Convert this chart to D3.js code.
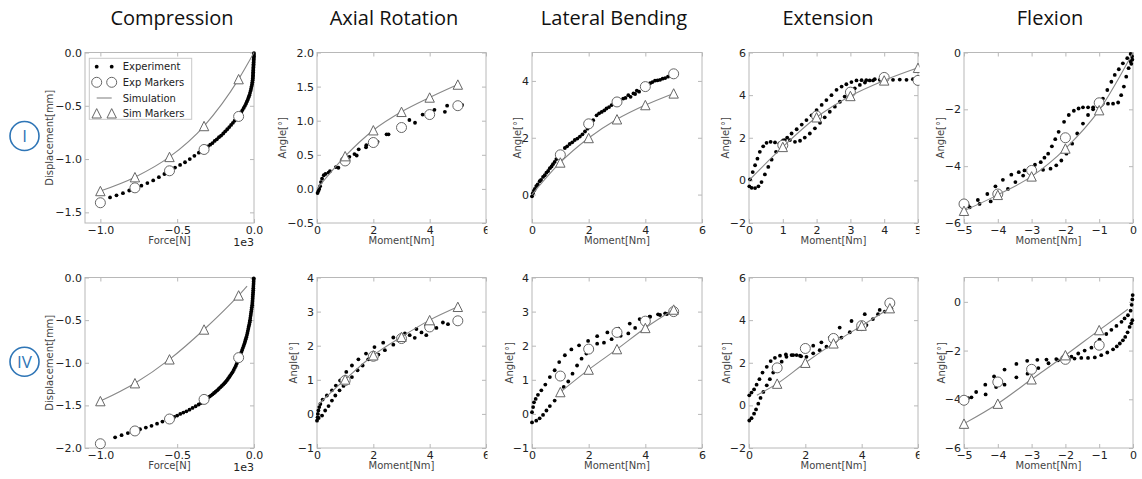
<!DOCTYPE html>
<html>
<head>
<meta charset="utf-8">
<script src="https://cdn.jsdelivr.net/npm/d3@7"></script>
<style>
  body { margin: 0; background: #fff; }
  svg { display: block; }
</style>
</head>
<body>
<svg id="chart" width="1142" height="479"></svg>
<script>
// ---------- data ----------
const titles = ["Compression", "Axial Rotation", "Lateral Bending", "Extension", "Flexion"];
const rowLabels = ["I", "IV"];
const legendLabels = ["Experiment", "Exp Markers", "Simulation", "Sim Markers"];

// load steps where the markers sit
const forceSteps = [-1000, -775, -550, -325, -100];
const momentSteps = [1, 2, 3, 4, 5];
const flexSteps = [-5, -4, -3, -2, -1];

// Specimen I
const compI_exp = [[-937,-1.36],[-895,-1.34],[-853,-1.32],[-812,-1.295],[-772,-1.27],[-733,-1.25],[-694,-1.225],[-656,-1.20],[-619,-1.17],[-583,-1.14],[-548,-1.11],[-514,-1.08],[-481,-1.055],[-449,-1.03],[-418,-1.00],[-388,-0.97],[-359,-0.94],[-331,-0.91],[-315,-0.895],[-300,-0.88],[-285,-0.865],[-270,-0.85],[-256,-0.83],[-242,-0.815],[-228,-0.795],[-214,-0.78],[-200,-0.76],[-187,-0.74],[-174,-0.72],[-161,-0.70],[-149,-0.68],[-137,-0.66],[-126,-0.64],[-115,-0.62],[-104,-0.60],[-94,-0.58],[-84,-0.56],[-75,-0.54],[-67,-0.52],[-59,-0.50],[-52,-0.48],[-46,-0.46],[-40,-0.44],[-35,-0.42],[-30,-0.40],[-26,-0.38],[-22,-0.36],[-19,-0.34],[-16,-0.32],[-13,-0.30],[-11,-0.28],[-9,-0.26],[-8,-0.245],[-7,-0.23],[-6.5,-0.215],[-6,-0.20],[-5.5,-0.185],[-5,-0.17],[-4.5,-0.155],[-4,-0.14],[-3.5,-0.125],[-3,-0.11],[-2.5,-0.095],[-2,-0.08],[-1.5,-0.065],[-1,-0.05],[-0.7,-0.035],[-0.5,-0.02],[-0.2,-0.005]];
const compI_circ = [-1.41, -1.27, -1.11, -0.91, -0.60];
const compI_sim = [[-1000,-1.30],[-775,-1.17],[-550,-0.98],[-325,-0.69],[-100,-0.25],[0,0]];
const compI_tri = [-1.30, -1.17, -0.98, -0.69, -0.25];

const arI_exp = [[0.02,-0.06],[0.05,-0.03],[0.08,0.00],[0.11,0.04],[0.14,0.10],[0.18,0.15],[0.24,0.20],[0.30,0.22],[0.41,0.24],[0.46,0.26],[0.67,0.32],[0.76,0.31],[1.03,0.45],[1.15,0.47],[1.33,0.51],[1.41,0.49],[1.48,0.58],[1.74,0.61],[1.75,0.64],[2.15,0.69],[2.47,0.80],[2.54,0.80],[3.28,1.01],[3.48,0.97],[3.75,1.09],[4.17,1.16],[4.54,1.13],[4.62,1.22],[5.15,1.23]];
const arI_circ = [0.41, 0.68, 0.90, 1.09, 1.22];
const arI_sim = [[0,0],[1,0.48],[2,0.86],[3,1.13],[4,1.34],[5,1.53]];
const arI_tri = [0.48, 0.86, 1.13, 1.34, 1.53];

const lbI_exp = [[0,-0.06],[0.07,0.14],[0.15,0.30],[0.27,0.47],[0.39,0.62],[0.51,0.77],[0.63,0.93],[0.74,1.07],[0.86,1.25],[1.02,1.45],[1.16,1.64],[1.33,1.78],[1.51,1.92],[1.69,2.04],[1.87,2.22],[2.04,2.49],[2.28,2.79],[2.46,2.91],[2.63,3.03],[2.81,3.15],[3.08,3.32],[3.22,3.38],[3.40,3.50],[3.58,3.56],[3.70,3.66],[4.17,3.92],[4.34,4.01],[4.52,4.04],[4.70,4.10],[4.93,4.21],
  [0.03,0.05],[0.10,0.20],[0.20,0.36],[0.32,0.52],[0.45,0.68],[0.57,0.83],[0.69,0.99],[0.80,1.15],[0.94,1.34],[1.24,1.70],[1.42,1.84],[1.60,1.97],[1.78,2.12],[1.96,2.32],[2.16,2.62],[2.37,2.86],[2.55,2.96],[2.72,3.08],[2.90,3.21],[3.30,3.40],[3.48,3.44],[3.64,3.54],[3.78,3.62],[4.08,3.84],[4.25,3.96],[4.43,4.02],[4.61,4.08],[4.80,4.15],[5.02,4.22]];
const lbI_circ = [1.40, 2.49, 3.26, 3.80, 4.25];
const lbI_sim = [[0,0],[1,1.13],[2,1.99],[3,2.65],[4,3.15],[5,3.56]];
const lbI_tri = [1.13, 1.99, 2.65, 3.15, 3.56];

const extI_exp = [[0.03,0.05],[0.11,0.39],[0.18,0.71],[0.25,1.02],[0.32,1.34],[0.42,1.60],[0.52,1.76],[0.64,1.81],[0.77,1.78],[0.90,1.74],[1.01,1.88],[1.13,2.01],[1.26,2.20],[1.41,2.40],[1.56,2.62],[1.70,2.83],[1.85,3.05],[2.00,3.30],[2.15,3.54],[2.29,3.77],[2.44,4.00],[2.59,4.25],[2.74,4.40],[2.88,4.51],[3.03,4.61],[3.18,4.69],[3.33,4.70],[3.47,4.70],[3.67,4.69],[3.87,4.72],
  [0.01,-0.28],[0.08,-0.35],[0.18,-0.36],[0.28,-0.28],[0.37,-0.08],[0.47,0.28],[0.57,0.63],[0.67,0.97],[0.80,1.34],[0.92,1.65],[1.06,1.89],[1.21,1.89],[1.36,1.81],[1.51,1.86],[1.65,2.01],[1.80,2.20],[1.95,2.44],[2.10,2.70],[2.24,2.96],[2.39,3.22],[2.54,3.46],[2.69,3.69],[2.83,3.93],[2.98,4.12],[3.13,4.32],[3.28,4.48],[3.43,4.59],[3.57,4.69],[3.72,4.75],[4.07,4.72],[4.26,4.72],[4.46,4.73],[4.66,4.72],[4.85,4.75]];
const extI_circ = [1.65, 3.02, 4.14, 4.83, 4.69];
const extI_sim = [[0,0],[1,1.57],[2,2.96],[3,3.96],[4,4.69],[5,5.28]];
const extI_tri = [1.57, 2.96, 3.96, 4.69, 5.28];

const flexI_exp = [[-4.88,-5.39],[-4.59,-5.19],[-4.31,-4.98],[-4.07,-4.71],[-3.85,-4.48],[-3.60,-4.30],[-3.38,-4.21],[-3.21,-4.15],[-3.06,-4.06],[-2.90,-3.95],[-2.73,-3.86],[-2.62,-3.70],[-2.51,-3.56],[-2.40,-3.30],[-2.30,-3.05],[-2.20,-2.79],[-2.04,-2.44],[-1.90,-2.20],[-1.75,-2.05],[-1.61,-1.97],[-1.48,-1.93],[-1.33,-1.93],[-1.18,-1.93],[-1.04,-1.85],[-0.89,-1.62],[-0.76,-1.32],[-0.64,-1.03],[-0.54,-0.79],[-0.42,-0.59],[-0.30,-0.38],[-0.17,-0.20],[-0.07,-0.05],
  [-4.83,-5.45],[-4.54,-5.33],[-4.21,-5.24],[-3.95,-5.03],[-3.70,-4.80],[-3.48,-4.56],[-3.25,-4.33],[-3.08,-4.20],[-2.91,-4.15],[-2.66,-4.13],[-2.44,-4.09],[-2.27,-3.97],[-2.12,-3.80],[-1.97,-3.56],[-1.80,-3.21],[-1.65,-2.85],[-1.48,-2.50],[-1.33,-2.20],[-1.18,-2.00],[-1.04,-1.90],[-0.89,-1.78],[-0.74,-1.80],[-0.59,-1.80],[-0.44,-1.76],[-0.35,-1.50],[-0.27,-1.20],[-0.20,-0.85],[-0.13,-0.55],[-0.07,-0.32],[-0.03,-0.14],[-0.05,-0.40],[-0.02,-0.25]];
const flexI_circ = [-5.33, -4.98, -4.15, -3.00, -1.77];
const flexI_sim = [[-5,-5.57],[-4,-5.01],[-3,-4.36],[-2,-3.38],[-1,-2.03],[0,0]];
const flexI_tri = [-5.57, -5.01, -4.36, -3.38, -2.03];

// Specimen IV
const compIV_exp = [[-904,-1.875],[-862,-1.85],[-821,-1.825],[-781,-1.80],[-742,-1.78],[-704,-1.76],[-667,-1.74],[-631,-1.715],[-596,-1.69],[-560,-1.665],[-540,-1.65],[-520,-1.635],[-500,-1.62],[-480,-1.60],[-460,-1.585],[-440,-1.57],[-420,-1.55],[-400,-1.53],[-380,-1.51],[-360,-1.49],[-345,-1.472],[-330,-1.45],[-320,-1.435],[-310,-1.42],[-300,-1.41],[-290,-1.397],[-280,-1.385],[-270,-1.37],[-260,-1.355],[-250,-1.34],[-240,-1.325],[-230,-1.308],[-220,-1.29],[-210,-1.273],[-200,-1.255],[-192,-1.24],[-185,-1.225],[-177,-1.208],[-170,-1.19],[-162,-1.17],[-155,-1.15],[-147,-1.13],[-140,-1.11],[-132,-1.085],[-125,-1.06],[-118,-1.035],[-112,-1.01],[-106,-0.98],[-100,-0.95],[-94,-0.925],[-88,-0.90],[-82,-0.875],[-77,-0.85],[-72,-0.825],[-67,-0.80],[-62,-0.775],[-58,-0.75],[-54,-0.725],[-50,-0.70],[-46,-0.675],[-43,-0.65],[-40,-0.625],[-37,-0.60],[-34,-0.575],[-31,-0.55],[-28,-0.525],[-26,-0.50],[-24,-0.475],[-22,-0.45],[-20,-0.425],[-18,-0.40],[-16,-0.375],[-14,-0.35],[-12,-0.325],[-11,-0.30],[-10,-0.275],[-9,-0.25],[-8,-0.225],[-7,-0.20],[-6,-0.175],[-5,-0.15],[-4.5,-0.125],[-4,-0.10],[-3,-0.075],[-2.5,-0.05],[-2,-0.025],[-1.5,-0.01]];
const compIV_circ = [-1.95, -1.80, -1.66, -1.43, -0.94];
const compIV_sim = [[-1000,-1.45],[-775,-1.24],[-550,-0.96],[-325,-0.61],[-100,-0.21],[-45,-0.10]];
const compIV_tri = [-1.45, -1.24, -0.96, -0.61, -0.21];

const arIV_exp = [[0.00,-0.20],[0.02,-0.10],[0.03,0.00],[0.05,0.10],[0.08,0.20],[0.12,0.29],[0.20,0.42],[0.35,0.54],[0.53,0.69],[0.67,0.83],[0.82,0.98],[1.04,1.23],[1.24,1.42],[1.47,1.60],[1.74,1.77],[2.04,1.96],[2.35,2.09],[2.71,2.24],[3.12,2.36],[3.53,2.49],[3.88,2.60],[4.47,2.68],[4.65,2.63],
  [0.06,-0.12],[0.18,-0.05],[0.29,0.10],[0.41,0.23],[0.53,0.39],[0.65,0.54],[0.80,0.69],[0.94,0.82],[1.08,0.95],[1.24,1.08],[1.44,1.28],[1.62,1.42],[1.82,1.60],[2.18,1.74],[2.41,1.87],[2.71,2.03],[3.00,2.18],[3.29,2.31],[3.47,2.23],[3.71,2.39],[3.88,2.31],[4.24,2.52]];
const arIV_circ = [0.98, 1.69, 2.21, 2.55, 2.73];
const arIV_sim = [[0.05,0.28],[1,1.01],[2,1.72],[3,2.26],[4,2.75],[5,3.14]];
const arIV_tri = [1.01, 1.72, 2.26, 2.75, 3.14];

const lbIV_exp = [[0.00,0.05],[0.04,0.20],[0.07,0.34],[0.13,0.44],[0.21,0.56],[0.33,0.69],[0.47,0.86],[0.63,1.08],[0.80,1.28],[0.96,1.52],[1.16,1.72],[1.39,1.89],[1.66,2.01],[1.98,2.14],[2.30,2.28],[2.66,2.39],[3.05,2.50],[3.45,2.65],[3.80,2.78],[4.15,2.85],[4.45,2.92],[4.70,2.95],
  [0.00,-0.25],[0.15,-0.20],[0.27,-0.13],[0.39,-0.03],[0.51,0.10],[0.63,0.23],[0.80,0.39],[0.98,0.59],[1.12,0.79],[1.28,0.95],[1.43,1.18],[1.59,1.42],[1.75,1.62],[1.92,1.77],[2.10,1.92],[2.30,2.06],[2.54,2.09],[2.81,2.19],[3.13,2.29],[3.40,2.36],[3.64,2.52],[3.93,2.70],[4.17,2.85],[4.52,2.90],[4.76,2.93],[4.97,3.00]];
const lbIV_circ = [1.11, 1.90, 2.39, 2.72, 3.00];
const lbIV_sim = [[1,0.64],[2,1.30],[3,1.90],[4,2.52],[5,3.06]];
const lbIV_tri = [0.64, 1.30, 1.90, 2.52, 3.06];

const extIV_exp = [[0.01,0.47],[0.09,0.60],[0.18,0.75],[0.27,0.97],[0.37,1.23],[0.48,1.54],[0.63,1.81],[0.77,2.08],[0.92,2.23],[1.10,2.33],[1.31,2.39],[1.51,2.36],[1.69,2.36],[1.85,2.30],[2.28,2.80],[2.57,2.96],[2.87,3.18],[3.22,3.65],[3.64,3.96],[4.11,4.28],[4.64,4.48],[5.05,4.56],
  [0.01,-0.71],[0.09,-0.60],[0.18,-0.39],[0.25,-0.19],[0.33,0.08],[0.41,0.35],[0.51,0.63],[0.63,0.94],[0.74,1.23],[0.86,1.54],[1.00,1.81],[1.16,2.05],[1.33,2.28],[1.57,2.36],[1.81,2.33],[2.04,2.28],[2.28,2.44],[2.51,2.59],[2.75,2.75],[2.99,2.96],[3.28,3.18],[3.58,3.43],[3.87,3.58],[4.17,3.77],[4.40,4.05],[4.58,4.28],[4.82,4.40]];
const extIV_circ = [1.76, 2.67, 3.14, 3.74, 4.80];
const extIV_sim = [[0.28,0.48],[1,1.02],[2,2.00],[3,2.91],[4,3.74],[5,4.56]];
const extIV_tri = [1.02, 2.00, 2.91, 3.74, 4.56];

const flexIV_exp = [[-4.88,-3.95],[-4.64,-3.70],[-4.37,-3.40],[-4.11,-3.06],[-3.80,-2.78],[-3.45,-2.55],[-3.13,-2.42],[-2.83,-2.38],[-2.56,-2.37],[-2.27,-2.35],[-2.02,-2.30],[-1.82,-2.25],[-1.62,-2.12],[-1.43,-2.00],[-1.23,-1.88],[-1.08,-1.68],[-0.99,-1.55],[-0.79,-1.32],[-0.64,-1.15],[-0.49,-0.99],[-0.34,-0.82],[-0.25,-0.68],[-0.15,-0.55],[-0.07,-0.36],[-0.04,-0.12],[-0.02,0.10],[-0.01,0.28],
  [-4.78,-3.92],[-4.36,-3.80],[-4.05,-3.50],[-3.80,-3.40],[-3.45,-3.10],[-3.12,-2.95],[-2.80,-2.72],[-2.50,-2.52],[-2.22,-2.40],[-1.95,-2.33],[-1.73,-2.33],[-1.53,-2.30],[-1.33,-2.30],[-1.13,-2.28],[-0.94,-2.19],[-0.76,-2.08],[-0.59,-1.95],[-0.48,-1.83],[-0.39,-1.71],[-0.30,-1.58],[-0.23,-1.44],[-0.16,-1.25],[-0.10,-1.03],[-0.05,-0.88],[-0.02,-0.75]];
const flexIV_circ = [-4.04, -3.29, -2.77, -2.36, -1.78];
const flexIV_sim = [[-5,-5.00],[-4,-4.18],[-3,-3.18],[-2,-2.19],[-1,-1.16],[-0.15,-0.30]];
const flexIV_tri = [-5.00, -4.18, -3.18, -2.19, -1.16];

// axis ticks
const forceTicks = [-1000, -500, 0];
const comp1YTicks = [-1.5, -1.0, -0.5, 0.0];
const comp4YTicks = [-2.0, -1.5, -1.0, -0.5, 0.0];
const momentTicks = [0, 2, 4, 6];
const extMomentTicks = [0, 1, 2, 3, 4, 5];
const flexTicks = [-5, -4, -3, -2, -1, 0];
const ar1YTicks = [-0.5, 0.0, 0.5, 1.0, 1.5, 2.0];
const lb1YTicks = [0, 2, 4];
const ext1YTicks = [-2, 0, 2, 4, 6];
const flexYTicks = [-6, -4, -2, 0];
const unitYTicks = [-1, 0, 1, 2, 3, 4];

// ---------- layout ----------
const rowsY = [[52.5, 223], [277.5, 448]];
const colsX = [[85, 254], [317, 486], [532, 702], [749, 918], [964, 1133]];
const clipRight = [null, 487.5, null, 919.5, null];
const clipLeft = [null, 262, null, 706, null];
const yLabelX = [[49.3, 282.7, 517.3, 725, 940], [49.3, 293.3, 509.3, 726, 941]];

const fmt1 = d3.format(".1f");
const fmt0 = d3.format("d");
const fmtForce = d => fmt1(d / 1000);

const panels = [
  // row I
  { r:0, c:0, xd:[-1100,0], yd:[-1.6,0], xt:forceTicks, yt:comp1YTicks, xf:fmtForce, yf:fmt1, xl:"Force[N]", yl:"Displacement[mm]", exp:compI_exp, mx:forceSteps, circ:compI_circ, sim:compI_sim, tri:compI_tri, offset:"1e3", legend:true },
  { r:0, c:1, xd:[0,6], yd:[-0.5,2], xt:momentTicks, yt:ar1YTicks, xf:fmt0, yf:fmt1, xl:"Moment[Nm]", yl:"Angle[°]", exp:arI_exp, mx:momentSteps, circ:arI_circ, sim:arI_sim, tri:arI_tri },
  { r:0, c:2, xd:[0,6], yd:[-1,5], xt:momentTicks, yt:lb1YTicks, xf:fmt0, yf:fmt0, xl:"Moment[Nm]", yl:"Angle[°]", exp:lbI_exp, mx:momentSteps, circ:lbI_circ, sim:lbI_sim, tri:lbI_tri },
  { r:0, c:3, xd:[0,5], yd:[-2,6], xt:extMomentTicks, yt:ext1YTicks, xf:fmt0, yf:fmt0, xl:"Moment[Nm]", yl:"Angle[°]", exp:extI_exp, mx:momentSteps, circ:extI_circ, sim:extI_sim, tri:extI_tri },
  { r:0, c:4, xd:[-5,0], yd:[-6,0], xt:flexTicks, yt:flexYTicks, xf:fmt0, yf:fmt0, xl:"Moment[Nm]", yl:"Angle[°]", exp:flexI_exp, mx:flexSteps, circ:flexI_circ, sim:flexI_sim, tri:flexI_tri },
  // row IV
  { r:1, c:0, xd:[-1100,0], yd:[-2,0], xt:forceTicks, yt:comp4YTicks, xf:fmtForce, yf:fmt1, xl:"Force[N]", yl:"Displacement[mm]", exp:compIV_exp, mx:forceSteps, circ:compIV_circ, sim:compIV_sim, tri:compIV_tri, offset:"1e3" },
  { r:1, c:1, xd:[0,6], yd:[-1,4], xt:momentTicks, yt:unitYTicks, xf:fmt0, yf:fmt0, xl:"Moment[Nm]", yl:"Angle[°]", exp:arIV_exp, mx:momentSteps, circ:arIV_circ, sim:arIV_sim, tri:arIV_tri },
  { r:1, c:2, xd:[0,6], yd:[-1,4], xt:momentTicks, yt:unitYTicks, xf:fmt0, yf:fmt0, xl:"Moment[Nm]", yl:"Angle[°]", exp:lbIV_exp, mx:momentSteps, circ:lbIV_circ, sim:lbIV_sim, tri:lbIV_tri },
  { r:1, c:3, xd:[0,6], yd:[-2,6], xt:momentTicks, yt:ext1YTicks, xf:fmt0, yf:fmt0, xl:"Moment[Nm]", yl:"Angle[°]", exp:extIV_exp, mx:momentSteps, circ:extIV_circ, sim:extIV_sim, tri:extIV_tri },
  { r:1, c:4, xd:[-5,0], yd:[-6,1], xt:flexTicks, yt:flexYTicks, xf:fmt0, yf:fmt0, xl:"Moment[Nm]", yl:"Angle[°]", exp:flexIV_exp, mx:flexSteps, circ:flexIV_circ, sim:flexIV_sim, tri:flexIV_tri }
];

// ---------- styles ----------
const FRAME = "#b8b8b8";
const TICKFONT = "'DejaVu Sans', sans-serif";
const MARKER_STROKE = "#666";
const SIM_STROKE = "#888";
const BLUE = "#2e75b6";

const svg = d3.select("#chart");
const defs = svg.append("defs");

// triangle marker path ('^'), half-size s
const triPath = s => `M0,${-s}L${s},${s}L${-s},${s}Z`;

// column titles
titles.forEach((t, i) => {
  const cx = [172, 394, 614, 828, 1050][i];
  svg.append("text")
    .attr("x", cx).attr("y", 25)
    .attr("text-anchor", "middle")
    .style("font-family", "'Open Sans', sans-serif")
    .style("font-size", "20px")
    .style("fill", "#111")
    .text(t);
});

// row badges
rowLabels.forEach((t, i) => {
  const cy = [136, 361.7][i];
  const g = svg.append("g").attr("transform", `translate(24.5,${cy})`);
  g.append("circle").attr("r", 14.5).attr("fill", "none").attr("stroke", BLUE).attr("stroke-width", 1.6);
  g.append("text").attr("text-anchor", "middle").attr("dy", "0.36em")
    .style("font-family", "'Open Sans', sans-serif").style("font-size", "17px")
    .style("fill", BLUE).text(t);
});

panels.forEach((p, idx) => {
  const [left, right] = colsX[p.c];
  const [top, bottom] = rowsY[p.r];
  const g = svg.append("g");
  if (clipRight[p.c] !== null) {
    const id = "clip" + idx;
    defs.append("clipPath").attr("id", id).append("rect")
      .attr("x", clipLeft[p.c]).attr("y", top - 20)
      .attr("width", clipRight[p.c] - clipLeft[p.c]).attr("height", bottom - top + 60);
    g.attr("clip-path", `url(#${id})`);
  }

  const x = d3.scaleLinear().domain(p.xd).range([left, right]);
  const y = d3.scaleLinear().domain(p.yd).range([bottom, top]);

  // plot area clip for marks
  const pid = "plot" + idx;
  defs.append("clipPath").attr("id", pid).append("rect")
    .attr("x", left - 6).attr("y", top - 6).attr("width", right - left + 12).attr("height", bottom - top + 12);

  // axes with inward ticks on all four sides
  const styleAxis = sel => {
    sel.select(".domain").remove();
    sel.selectAll(".tick line").attr("stroke", FRAME).attr("stroke-width", 1);
    sel.selectAll(".tick text").style("font-family", TICKFONT).style("font-size", "11px").attr("fill", "#222");
  };
  g.append("g").attr("transform", `translate(0,${bottom})`)
    .call(d3.axisBottom(x).tickValues(p.xt).tickFormat(p.xf).tickSize(-4).tickPadding(3)).call(styleAxis);
  g.append("g").attr("transform", `translate(0,${top})`)
    .call(d3.axisTop(x).tickValues(p.xt).tickFormat(() => "").tickSize(-4)).call(styleAxis);
  g.append("g").attr("transform", `translate(${left},0)`)
    .call(d3.axisLeft(y).tickValues(p.yt).tickFormat(p.yf).tickSize(-4).tickPadding(3)).call(styleAxis);
  g.append("g").attr("transform", `translate(${right},0)`)
    .call(d3.axisRight(y).tickValues(p.yt).tickFormat(() => "").tickSize(-4)).call(styleAxis);

  // frame
  g.append("rect").attr("x", left).attr("y", top)
    .attr("width", right - left).attr("height", bottom - top)
    .attr("fill", "none").attr("stroke", FRAME).attr("stroke-width", 1);

  // axis labels
  g.append("text").attr("x", (left + right) / 2).attr("y", bottom + 21)
    .attr("text-anchor", "middle")
    .style("font-family", TICKFONT).style("font-size", "10px").style("fill", "#444")
    .text(p.xl);
  g.append("text")
    .attr("transform", `translate(${yLabelX[p.r][p.c]},${(top + bottom) / 2}) rotate(-90)`)
    .attr("text-anchor", "middle").attr("dy", "0.35em")
    .style("font-family", TICKFONT).style("font-size", "10px").style("fill", "#444")
    .text(p.yl);
  if (p.offset) {
    g.append("text").attr("x", right).attr("y", bottom + 22.5)
      .attr("text-anchor", "end")
      .style("font-family", TICKFONT).style("font-size", "11px").style("fill", "#222")
      .text(p.offset);
  }

  const marks = g.append("g").attr("clip-path", `url(#${pid})`);

  // experiment
  marks.append("g").selectAll("circle").data(p.exp).join("circle")
    .attr("cx", d => x(d[0])).attr("cy", d => y(d[1])).attr("r", 1.9).attr("fill", "#000");

  // experiment markers
  marks.append("g").selectAll("circle").data(p.circ).join("circle")
    .attr("cx", (d, i) => x(p.mx[i])).attr("cy", d => y(d)).attr("r", 5)
    .attr("fill", "#fff").attr("stroke", MARKER_STROKE).attr("stroke-width", 1);

  // simulation
  marks.append("path").datum(p.sim)
    .attr("d", d3.line().x(d => x(d[0])).y(d => y(d[1])).curve(d3.curveMonotoneX))
    .attr("fill", "none").attr("stroke", SIM_STROKE).attr("stroke-width", 1.1);

  // simulation markers
  marks.append("g").selectAll("path").data(p.tri).join("path")
    .attr("transform", (d, i) => `translate(${x(p.mx[i])},${y(d)})`)
    .attr("d", triPath(4.7))
    .attr("fill", "#fff").attr("stroke", MARKER_STROKE).attr("stroke-width", 1);

  // legend
  if (p.legend) {
    const lg = g.append("g");
    lg.append("rect").attr("x", 89.3).attr("y", 58.3).attr("width", 102.4).attr("height", 61)
      .attr("fill", "#fff").attr("stroke", "#c8c8c8").attr("stroke-width", 1);
    const rowsYL = [66.7, 82.3, 98, 113.3];
    const mxs = [96.7, 111.7];
    mxs.forEach(mx => lg.append("circle").attr("cx", mx).attr("cy", rowsYL[0]).attr("r", 1.9).attr("fill", "#000"));
    mxs.forEach(mx => lg.append("circle").attr("cx", mx).attr("cy", rowsYL[1]).attr("r", 5)
      .attr("fill", "#fff").attr("stroke", MARKER_STROKE));
    lg.append("line").attr("x1", 96.7).attr("x2", 111.7).attr("y1", rowsYL[2]).attr("y2", rowsYL[2])
      .attr("stroke", SIM_STROKE).attr("stroke-width", 1.1);
    mxs.forEach(mx => lg.append("path").attr("transform", `translate(${mx},${rowsYL[3]})`)
      .attr("d", triPath(4.7)).attr("fill", "#fff").attr("stroke", MARKER_STROKE));
    legendLabels.forEach((t, i) => lg.append("text").attr("x", 122.7).attr("y", rowsYL[i]).attr("dy", "0.35em")
      .style("font-family", TICKFONT).style("font-size", "10px").style("fill", "#222").text(t));
  }
});
</script>
</body>
</html>
